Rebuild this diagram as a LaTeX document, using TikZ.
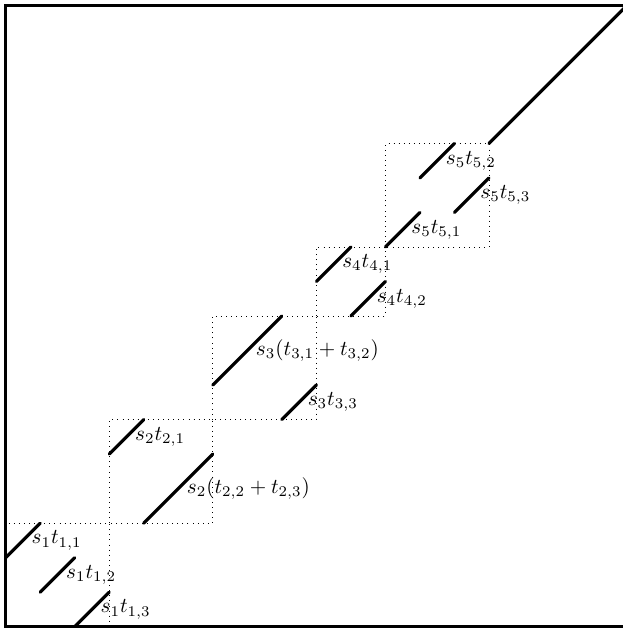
\documentclass[tikz,border=0pt]{standalone}
\begin{document}
\begin{tikzpicture}[x=1.72cm,y=1.72cm,
  seg/.style={line width=1.5pt, line cap=round},
  blk/.style={dotted},
  frame/.style={line width=1.25pt},
  lab/.style={right}]
\useasboundingbox (-0.055,-0.0415) rectangle (5.96,6.0512);
\clip (-0.055,-0.0415) rectangle (5.96,6.0512);
\draw[frame] (0,0) rectangle (6,6);
% blocks
\draw[blk] (0,0) rectangle (1,1);
\draw[blk] (1,1) rectangle (2,2);
\draw[blk] (2,2) rectangle (3,3);
\draw[blk] (3,3) rectangle (11/3,11/3);
\draw[blk] (11/3,11/3) rectangle (14/3,14/3);
% block 1
\draw[seg] (0,2/3) -- node[lab] (l11) {$s_1t_{1,1}$} (1/3,1);
\draw[seg] (1/3,1/3) -- node[lab] (l12) {$s_1t_{1,2}$} (2/3,2/3);
\draw[seg] (2/3,0) -- node[lab] (l13) {$s_1t_{1,3}$} (1,1/3);
% block 2
\draw[seg] (1,5/3) -- node[lab] (l21) {$s_2t_{2,1}$} (4/3,2);
\draw[seg] (4/3,1) -- node[lab] (l22) {$s_2(t_{2,2}+t_{2,3})$} (2,5/3);
% block 3
\draw[seg] (2,7/3) -- node[lab] (l31) {$s_3(t_{3,1}+t_{3,2})$} (8/3,3);
\draw[seg] (8/3,2) -- node[lab] (l33) {$s_3t_{3,3}$} (3,7/3);
% block 4
\draw[seg] (3,10/3) -- node[lab] (l41) {$s_4t_{4,1}$} (10/3,11/3);
\draw[seg] (10/3,3) -- node[lab] (l42) {$s_4t_{4,2}$} (11/3,10/3);
% block 5
\draw[seg] (11/3,11/3) -- node[lab] (l51) {$s_5t_{5,1}$} (4,4);
\draw[seg] (4,13/3) -- node[lab] (l52) {$s_5t_{5,2}$} (13/3,14/3);
\draw[seg] (13/3,4) -- node[lab] (l53) {$s_5t_{5,3}$} (14/3,13/3);
% remaining diagonal
\draw[seg] (14/3,14/3) -- (6,6);
\end{tikzpicture}
\end{document}
